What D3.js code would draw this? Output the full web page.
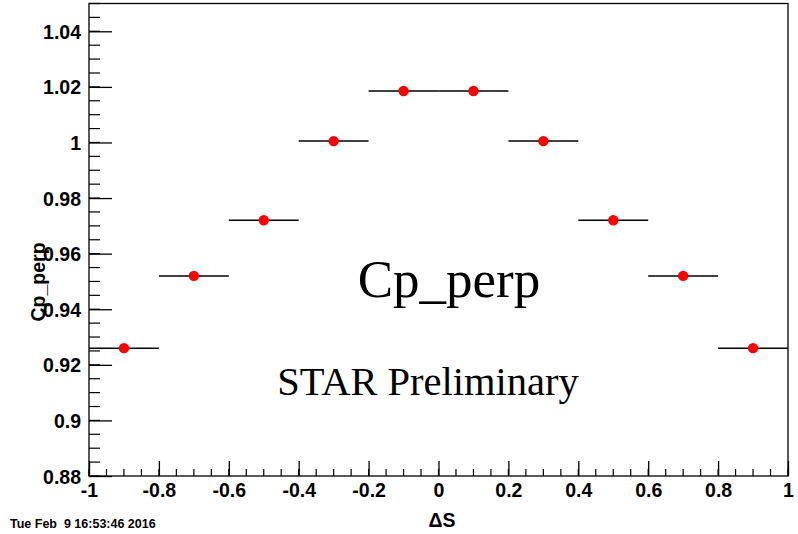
<!DOCTYPE html>
<html><head><meta charset="utf-8">
<script src="https://cdn.jsdelivr.net/npm/d3@7"></script>
<style>
html,body{margin:0;padding:0;background:#fff;}
svg{display:block;}
</style></head><body>
<svg id="c" width="798" height="534"></svg>
<script>
const xCenters = [-0.9, -0.7, -0.5, -0.3, -0.1, 0.1, 0.3, 0.5, 0.7, 0.9];
const yValues  = [0.926, 0.952, 0.972, 1.0005, 1.0185, 1.0185, 1.0005, 0.972, 0.952, 0.926];
const xErr     = [0.1, 0.1, 0.1, 0.1, 0.1, 0.1, 0.1, 0.1, 0.1, 0.1];
const xTicks = [-1, -0.8, -0.6, -0.4, -0.2, 0, 0.2, 0.4, 0.6, 0.8, 1];
const yTicks = [0.88, 0.9, 0.92, 0.94, 0.96, 0.98, 1, 1.02, 1.04];
const xDomain = [-1, 1];
const yDomain = [0.88, 1.05];

const svg = d3.select("#c");
const L = 89, R = 788, T = 3.5, B = 476;
const x = d3.scaleLinear().domain(xDomain).range([L, R]);
const y = d3.scaleLinear().domain(yDomain).range([B, T]);

const sans = "'Liberation Sans', Arial, Helvetica, sans-serif";
const serif = "'Liberation Serif', 'Times New Roman', serif";

// frame
svg.append("rect").attr("x", L).attr("y", T).attr("width", R - L).attr("height", B - T)
  .attr("fill", "none").attr("stroke", "#000").attr("stroke-width", 1.3);

// minor ticks
const xMinor = d3.range(-1, 1.0001, 0.05);
svg.append("g").selectAll("line").data(xMinor).join("line")
  .attr("x1", d => x(d)).attr("x2", d => x(d))
  .attr("y1", B).attr("y2", B - 7).attr("stroke", "#000").attr("stroke-width", 1.2);
const yMinor = d3.range(0.88, 1.05001, 0.005);
svg.append("g").selectAll("line").data(yMinor).join("line")
  .attr("x1", L).attr("x2", L + 11)
  .attr("y1", d => y(d)).attr("y2", d => y(d)).attr("stroke", "#000").attr("stroke-width", 1.2);

const fmt = d => String(d);

// axes with major ticks
const xAxis = d3.axisTop(x).tickValues(xTicks).tickSize(15).tickFormat(fmt);
const gx = svg.append("g").attr("transform", `translate(0,${B})`).call(xAxis);
gx.select(".domain").remove();
gx.selectAll(".tick line").attr("stroke", "#000").attr("stroke-width", 1.3);
gx.selectAll(".tick text").attr("y", 21).attr("dy", 0)
  .style("font-family", sans).style("font-weight", "bold").style("font-size", "19.5px").attr("fill", "#000");

const yAxis = d3.axisRight(y).tickValues(yTicks).tickSize(23).tickFormat(fmt);
const gy = svg.append("g").attr("transform", `translate(${L},0)`).call(yAxis);
gy.select(".domain").remove();
gy.selectAll(".tick line").attr("stroke", "#000").attr("stroke-width", 1.3);
gy.selectAll(".tick text").attr("x", -8).attr("dy", "0.36em").attr("text-anchor", "end")
  .style("font-family", sans).style("font-weight", "bold").style("font-size", "19.5px").attr("fill", "#000");

// data
const data = xCenters.map((c, i) => ({c, v: yValues[i], e: xErr[i]}));
svg.append("g").selectAll("line").data(data).join("line")
  .attr("x1", d => Math.max(L, x(d.c - d.e))).attr("x2", d => Math.min(R, x(d.c + d.e)))
  .attr("y1", d => y(d.v)).attr("y2", d => y(d.v))
  .attr("stroke", "#000").attr("stroke-width", 1.5);
svg.append("g").selectAll("circle").data(data).join("circle")
  .attr("cx", d => x(d.c)).attr("cy", d => y(d.v)).attr("r", 5.2)
  .attr("fill", "#ff0000");

// texts
svg.append("text").attr("x", 449).attr("y", 297).attr("text-anchor", "middle")
  .style("font-family", serif).style("font-size", "53px").text("Cp_perp");
svg.append("text").attr("x", 428).attr("y", 395).attr("text-anchor", "middle")
  .style("font-family", serif).style("font-size", "40.5px").text("STAR Preliminary");

svg.append("text").attr("transform", "translate(45,282) rotate(-90)").attr("text-anchor", "middle")
  .style("font-family", sans).style("font-weight", "bold").style("font-size", "19.5px").text("Cp_perp");
svg.append("text").attr("x", 442).attr("y", 527).attr("text-anchor", "middle")
  .style("font-family", sans).style("font-weight", "bold").style("font-size", "19.5px").text("ΔS");
svg.append("text").attr("x", 10).attr("y", 528).attr("xml:space", "preserve")
  .style("font-family", sans).style("font-weight", "bold").style("font-size", "12.5px").style("white-space", "pre")
  .text("Tue Feb  9 16:53:46 2016");
</script>
</body></html>
